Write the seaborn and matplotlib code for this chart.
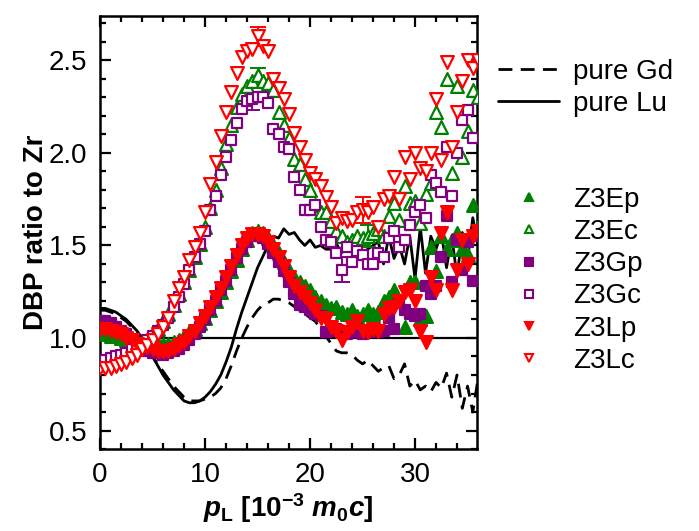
import numpy as np
import pandas as pd
import matplotlib
matplotlib.use("Agg")
import matplotlib.pyplot as plt
import seaborn as sns
from matplotlib.lines import Line2D
from matplotlib.ticker import MultipleLocator

sns.set_style("ticks")
plt.rcParams["font.family"] = ["Liberation Sans", "DejaVu Sans"]
plt.rcParams["mathtext.fontset"] = "custom"
plt.rcParams["mathtext.rm"] = "Liberation Sans:bold"
plt.rcParams["mathtext.it"] = "Liberation Sans:italic:bold"
plt.rcParams["mathtext.bf"] = "Liberation Sans:bold"
for key in ["text.color", "axes.labelcolor", "xtick.color", "ytick.color"]:
    plt.rcParams[key] = "black"

# momentum grid, 10^-3 m0c
p_L = np.arange(0, 36.01, 0.5)

# =========================
# Data
# =========================

z3ep = [1.02, 1.02, 1.01, 1.01, 1.00, 0.99, 0.99, 0.98, 0.98, 0.97,
        0.97, 0.97, 0.97, 0.97, 0.98, 0.99, 1.01, 1.03, 1.05, 1.08,
        1.11, 1.15, 1.20, 1.25, 1.30, 1.36, 1.42, 1.48, 1.53, 1.57,
        1.58, 1.57, 1.54, 1.50, 1.46, 1.41, 1.37, 1.33, 1.30, 1.28,
        1.26, 1.22, 1.20, 1.18, 1.16, 1.17, 1.14, 1.13, 1.15, 1.12,
        1.13, 1.15, 1.13, 1.14, 1.20, 1.22, 1.26, 1.20, 1.06, 1.30,
        1.30, 1.10, 1.12, 1.49, 1.36, 1.55, 1.48, 1.53, 1.57, 1.48,
        1.45, 1.72, 1.60]

z3ec = [0.86, 0.87, 0.88, 0.89, 0.90, 0.91, 0.93, 0.95, 0.97, 0.99,
        1.02, 1.05, 1.09, 1.13, 1.18, 1.24, 1.30, 1.37, 1.44, 1.51,
        1.60, 1.70, 1.80, 1.92, 2.05, 2.15, 2.25, 2.32, 2.36, 2.39,
        2.42, 2.39, 2.38, 2.34, 2.22, 2.15, 2.08, 1.97, 1.94, 1.86,
        1.80, 1.72, 1.68, 1.68, 1.63, 1.58, 1.55, 1.52, 1.53, 1.55,
        1.54, 1.55, 1.57, 1.59, 1.55, 1.66, 1.73, 1.64, 1.82, 1.73,
        1.74, 1.62, 1.78, 1.84, 2.22, 2.14, 2.40, 1.89, 2.36, 1.98,
        2.12, 2.34, 2.30]

z3gp = [1.09, 1.09, 1.08, 1.06, 1.04, 1.02, 0.99, 0.97, 0.95, 0.93,
        0.92, 0.92, 0.91, 0.92, 0.93, 0.94, 0.96, 0.99, 1.02, 1.06,
        1.10, 1.15, 1.20, 1.26, 1.31, 1.37, 1.43, 1.48, 1.52, 1.55,
        1.55, 1.54, 1.51, 1.46, 1.41, 1.36, 1.30, 1.24, 1.18, 1.17,
        1.15, 1.13, 1.12, 1.03, 1.04, 1.05, 1.04, 1.02, 1.03, 1.05,
        1.02, 1.03, 1.04, 1.03, 1.04, 1.11, 1.05, 1.19, 1.15, 1.13,
        1.12, 1.13, 1.28, 1.24, 1.28, 1.44, 1.66, 1.30, 1.53, 1.37,
        1.52, 1.31, 1.55]

z3gc = [0.87, 0.88, 0.89, 0.90, 0.91, 0.92, 0.94, 0.95, 0.97, 0.99,
        1.01, 1.04, 1.07, 1.11, 1.17, 1.22, 1.29, 1.37, 1.44, 1.51,
        1.58, 1.69, 1.77, 1.88, 1.98, 2.07, 2.16, 2.24, 2.28, 2.29,
        2.30, 2.30, 2.27, 2.13, 2.10, 2.03, 2.02, 1.87, 1.80, 1.69,
        1.69, 1.72, 1.60, 1.53, 1.52, 1.46, 1.37, 1.49, 1.41, 1.47,
        1.45, 1.40, 1.40, 1.46, 1.44, 1.54, 1.58, 1.49, 1.53, 1.61,
        1.68, 1.72, 1.65, 1.88, 1.84, 1.79, 2.03, 1.77, 2.00, 2.18,
        2.23, 2.08, 2.50]

z3lp = [1.05, 1.05, 1.04, 1.03, 1.02, 1.00, 0.99, 0.97, 0.96, 0.95,
        0.94, 0.93, 0.93, 0.93, 0.94, 0.96, 0.98, 1.01, 1.04, 1.08,
        1.12, 1.17, 1.22, 1.27, 1.33, 1.39, 1.45, 1.50, 1.54, 1.56,
        1.56, 1.55, 1.52, 1.48, 1.44, 1.39, 1.33, 1.28, 1.25, 1.22,
        1.19, 1.15, 1.11, 1.10, 1.06, 1.04, 0.99, 1.03, 1.06, 1.09,
        1.04, 1.03, 1.05, 1.04, 1.13, 1.16, 1.17, 1.20, 1.25, 1.26,
        1.20, 1.04, 0.98, 1.33, 1.26, 1.57, 1.68, 1.26, 1.37, 1.53,
        1.40, 1.55, 1.58]

z3lc = [0.84, 0.84, 0.84, 0.85, 0.86, 0.87, 0.89, 0.91, 0.94, 0.96,
        0.99, 1.02, 1.06, 1.11, 1.20, 1.27, 1.33, 1.42, 1.49, 1.57,
        1.68, 1.83, 1.95, 2.09, 2.22, 2.33, 2.43, 2.52, 2.55, 2.56,
        2.63, 2.58, 2.55, 2.40, 2.35, 2.29, 2.21, 2.11, 2.03, 1.96,
        1.89, 1.86, 1.82, 1.76, 1.71, 1.62, 1.65, 1.63, 1.64, 1.68,
        1.69, 1.68, 1.71, 1.60, 1.75, 1.77, 1.87, 1.75, 1.98, 1.86,
        2.00, 1.92, 1.90, 2.00, 2.29, 1.96, 2.49, 2.03, 2.22, 2.39,
        2.50, 2.46, 2.50]

pure_gd = [1.15, 1.15, 1.14, 1.13, 1.11, 1.09, 1.06, 1.03, 0.99, 0.95,
           0.90, 0.86, 0.82, 0.78, 0.74, 0.71, 0.68, 0.66, 0.66, 0.66,
           0.67, 0.68, 0.70, 0.73, 0.78, 0.85, 0.93, 1.00, 1.06, 1.11,
           1.15, 1.18, 1.19, 1.21, 1.21, 1.20, 1.19, 1.17, 1.15, 1.13,
           1.11, 1.09, 1.05, 1.01, 0.97, 0.93, 0.92, 0.92, 0.91, 0.88,
           0.86, 0.88, 0.85, 0.82, 0.84, 0.85, 0.78, 0.80, 0.86, 0.74,
           0.77, 0.72, 0.74, 0.71, 0.76, 0.73, 0.81, 0.68, 0.80, 0.62,
           0.74, 0.60, 0.78]

pure_lu = [1.16, 1.16, 1.15, 1.14, 1.12, 1.10, 1.07, 1.04, 1.00, 0.95,
           0.90, 0.85, 0.80, 0.76, 0.72, 0.69, 0.66, 0.65, 0.65, 0.66,
           0.68, 0.71, 0.75, 0.80, 0.87, 0.95, 1.05, 1.14, 1.22, 1.30,
           1.38, 1.44, 1.50, 1.55, 1.54, 1.59, 1.56, 1.57, 1.53, 1.50,
           1.53, 1.49, 1.50, 1.48, 1.48, 1.51, 1.46, 1.49, 1.47, 1.50,
           1.46, 1.48, 1.50, 1.52, 1.40, 1.55, 1.43, 1.50, 1.40, 1.55,
           1.32, 1.60, 1.35, 1.55, 1.48, 1.57, 1.38, 1.55, 1.33, 1.57,
           1.42, 1.65, 1.50]

# a few points carry error bars
err_x = [15.0, 15.0, 14.5, 25.0, 25.5, 23.0]
err_y = [2.63, 2.42, 2.29, 1.69, 1.55, 1.37]
err_size = [0.05, 0.04, 0.06, 0.07, 0.06, 0.07]
err_color = ["red", "green", "purple", "red", "green", "purple"]

series = [
    ("Z3Ep", z3ep, "green", "^", True),
    ("Z3Ec", z3ec, "green", "^", False),
    ("Z3Gp", z3gp, "purple", "s", True),
    ("Z3Gc", z3gc, "purple", "s", False),
    ("Z3Lp", z3lp, "red", "v", True),
    ("Z3Lc", z3lc, "red", "v", False),
]

FS = 20

# =========================
# Plot
# =========================

fig = plt.figure(figsize=(6.99, 5.31), dpi=100)
ax = fig.add_axes([0.1431, 0.1544, 0.5393, 0.8154])

ax.axhline(1.0, color="black", lw=1.6, zorder=1)

sns.lineplot(x=p_L, y=pure_gd, color="black", lw=2.0,
             linestyle=(0, (5, 3)), estimator=None, ax=ax, zorder=2)
sns.lineplot(x=p_L, y=pure_lu, color="black", lw=2.0,
             estimator=None, ax=ax, zorder=2)

for label, vals, col, mk, filled in series:
    df = pd.DataFrame({"p_L": p_L, "ratio": vals})
    sns.scatterplot(
        data=df, x="p_L", y="ratio",
        marker=mk, s=85 if mk != "s" else 60,
        color=col,
        facecolor=col if filled else "white",
        edgecolor=col,
        linewidth=1.6,
        ax=ax, zorder=3,
    )

for xe, ye, se, ce in zip(err_x, err_y, err_size, err_color):
    ax.errorbar(xe, ye, yerr=se, fmt="none", ecolor=ce,
                elinewidth=1.4, capsize=6, capthick=1.4, zorder=2.5)

ax.set_xlim(0, 35.9)
ax.set_ylim(0.4, 2.74)
ax.xaxis.set_major_locator(MultipleLocator(10))
ax.xaxis.set_minor_locator(MultipleLocator(2))
ax.yaxis.set_major_locator(MultipleLocator(0.5))
ax.yaxis.set_minor_locator(MultipleLocator(0.1))
ax.tick_params(which="both", direction="in", top=True, right=True,
               width=1.6, color="black", labelsize=FS)
ax.tick_params(which="major", length=8, pad=9)
ax.tick_params(which="minor", length=4.5)
for sp in ax.spines.values():
    sp.set_linewidth(1.8)
    sp.set_color("black")

ax.set_xlabel(r"$p_\mathrm{L}$ [10$^{-3}$ $m_\mathrm{0}c$]",
              fontsize=FS, fontweight="bold", labelpad=3)
ax.set_ylabel("DBP ratio to Zr", fontsize=FS, fontweight="bold", labelpad=0)

line_handles = [
    Line2D([], [], color="black", lw=2.0, linestyle=(0, (5, 3))),
    Line2D([], [], color="black", lw=2.0),
]
leg1 = fig.legend(line_handles, ["pure Gd", "pure Lu"],
                  loc="center left", bbox_to_anchor=(0.693, 0.835),
                  frameon=False, fontsize=FS, borderpad=0,
                  handlelength=2.2, handletextpad=0.5, labelspacing=0.22)

marker_handles = []
for label, vals, col, mk, filled in series:
    marker_handles.append(
        Line2D([], [], linestyle="none", marker=mk, markersize=6,
               markerfacecolor=col if filled else "white",
               markeredgecolor=col, markeredgewidth=1.5)
    )
leg2 = fig.legend(marker_handles, [s[0] for s in series],
                  loc="center left", bbox_to_anchor=(0.693, 0.472),
                  frameon=False, fontsize=FS, borderpad=0,
                  handlelength=2.2, handletextpad=0.5, labelspacing=0.22)

fig.savefig("out.png", dpi=100)
plt.close(fig)
